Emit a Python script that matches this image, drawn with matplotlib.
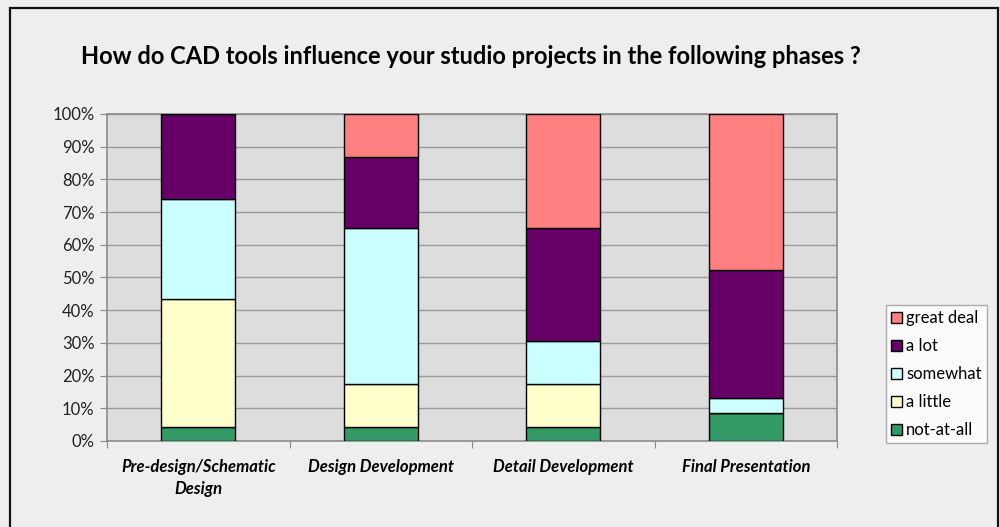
import matplotlib
matplotlib.use("Agg")
import matplotlib.pyplot as plt
import numpy as np
from matplotlib.patches import Rectangle
from matplotlib.ticker import FixedLocator, PercentFormatter

plt.rcParams['font.family'] = ['Lato', 'DejaVu Sans']

# Survey responses (23 students per phase)
phases = ["Pre-design/Schematic\nDesign", "Design Development",
          "Detail Development", "Final Presentation"]
respondents = 23
not_at_all = [1, 1, 1, 2]
a_little = [9, 3, 3, 0]
somewhat = [7, 11, 3, 1]
a_lot = [6, 5, 8, 9]
great_deal = [0, 3, 8, 11]

series = [
    ("not-at-all", not_at_all, "#339966"),
    ("a little", a_little, "#FFFFCC"),
    ("somewhat", somewhat, "#CCFFFF"),
    ("a lot", a_lot, "#660066"),
    ("great deal", great_deal, "#FF8080"),
]

fig = plt.figure(figsize=(10, 5.27), dpi=100, facecolor="#EEEEEE")

# outer chart frame
fig.patches.append(Rectangle((10 / 1000, -0.05), 988 / 1000, 1 - 8 / 527 + 0.05,
                             transform=fig.transFigure, fill=False,
                             edgecolor="#111111", linewidth=1.6, zorder=0))

ax = fig.add_axes([0.107, 0.1632, 0.730, 0.6205])
ax.set_facecolor("#DDDDDD")

x = np.arange(len(phases))
bottom = np.zeros(len(phases))
handles = []
for name, counts, color in series:
    pct = np.array(counts) / respondents * 100
    bars = ax.bar(x, pct, width=0.405, bottom=bottom, color=color,
                  edgecolor="black", linewidth=1.0, label=name, zorder=3)
    handles.append(bars)
    bottom += pct

ax.set_xlim(-0.5, len(phases) - 0.5)
ax.set_ylim(0, 100)
ax.yaxis.set_major_locator(FixedLocator(np.arange(0, 101, 10)))
ax.yaxis.set_major_formatter(PercentFormatter(decimals=0))
ax.grid(axis="y", color="#9A9A9A", linewidth=1.0, zorder=1)
ax.set_axisbelow(True)

# category boundaries carry the tick marks, labels sit at bar centres
ax.xaxis.set_major_locator(FixedLocator(np.arange(-0.5, len(phases), 1.0)))
ax.xaxis.set_major_formatter(plt.NullFormatter())
ax.xaxis.set_minor_locator(FixedLocator(x))
ax.set_xticklabels(phases, minor=True, fontsize=12, fontweight="bold",
                   fontstyle="italic", color="black", linespacing=1.45)
ax.tick_params(axis="x", which="minor", length=0, pad=13)
ax.tick_params(axis="x", which="major", length=5, color="#888888", direction="out")
ax.tick_params(axis="y", length=5, color="#888888", labelsize=12, pad=4,
               labelcolor="#222222")

for side in ["left", "bottom", "right", "top"]:
    ax.spines[side].set_color("#8C8C8C")
    ax.spines[side].set_linewidth(1.2)

fig.text(0.471, 0.892, "How do CAD tools influence your studio projects in the following phases ?",
         ha="center", va="center", fontsize=17, fontweight="bold", color="black")

leg = fig.legend(handles[::-1], [s[0] for s in series][::-1],
                 loc="lower left", bbox_to_anchor=(0.886, 1 - 443 / 527),
                 frameon=True, fancybox=False, edgecolor="#999999",
                 facecolor="white", fontsize=12, handlelength=0.65,
                 handleheight=0.65, handletextpad=0.25, labelspacing=0.72,
                 borderpad=0.3, borderaxespad=0.0)
leg.get_frame().set_linewidth(1.0)

fig.savefig("out.png", dpi=100, facecolor=fig.get_facecolor())
